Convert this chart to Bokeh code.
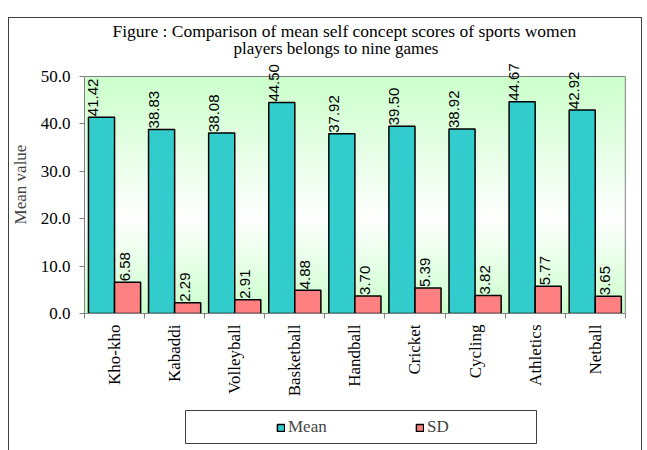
import numpy as np
from bokeh.plotting import figure
from bokeh.models import (ColumnDataSource, LabelSet, Legend, LegendItem, Title,
                          FixedTicker, Range1d, NumeralTickFormatter)
from bokeh.layouts import column
from bokeh.core.properties import value
from bokeh.embed import file_html
from bokeh.resources import INLINE

games = ["Kho-kho", "Kabaddi", "Volleyball", "Basketball", "Handball",
         "Cricket", "Cycling", "Athletics", "Netball"]
mean_vals = [41.42, 38.83, 38.08, 44.50, 37.92, 39.50, 38.92, 44.67, 42.92]
sd_vals = [6.58, 2.29, 2.91, 4.88, 3.70, 5.39, 3.82, 5.77, 3.65]
y_ticks = [0, 10, 20, 30, 40, 50]
title_lines = ["Figure : Comparison of mean self concept scores of sports women",
               "players belongs to nine games"]
series_names = ["Mean", "SD"]
series_colors = ["#33CCCC", "#FF8080"]

n = len(games)
y_max = y_ticks[-1]
centers = np.arange(n) + 0.5
bw = 0.434
src = ColumnDataSource(dict(
    x_mean=list(centers - bw / 2), x_sd=list(centers + bw / 2),
    mean=mean_vals, sd=sd_vals,
    mean_lbl=[f"{v:.2f}" for v in mean_vals],
    sd_lbl=[f"{v:.2f}" for v in sd_vals]))

SERIF = "Liberation Serif"
EDGE = "#404040"
GRID = "#808080"
W = 642
BL, BR = 84, 16   # side borders shared by both figures (frames are aligned by the column)


def line_bg(parts):
    return ", ".join(f"linear-gradient({EDGE}, {EDGE}) {pos} / {size} no-repeat" for pos, size in parts) + ", white"


# ---------------- main chart ----------------
p = figure(width=W, height=405, x_range=Range1d(0, n + 0.02), y_range=Range1d(0, 54.43),
           output_backend="svg", toolbar_location=None,
           min_border_left=BL, min_border_right=BR, min_border_top=55, min_border_bottom=92)
p.styles = {"background": line_bg([("8px 17px", "1px 100%"), ("641px 17px", "1px 100%"),
                                   ("8px 17px", "634px 1px")])}
p.background_fill_color = "white"
p.border_fill_alpha = 0
p.outline_line_color = None
p.xgrid.visible = False
p.ygrid.visible = False

# gradient background of the plot area (style only)
nrows = 240
t = np.linspace(0, 1, nrows)
g = np.array([0xCC, 0xFF, 0xCC], dtype=float)
w = np.array([255, 255, 255], dtype=float)
img = np.empty((nrows, 1), dtype=np.uint32)
view = img.view(dtype=np.uint8).reshape((nrows, 1, 4))
for i, ti in enumerate(t):
    if ti < 0.4:
        f = ti / 0.4
        c = g * (1 - f) + w * f
    else:
        f = (ti - 0.4) / 0.6
        c = w * (1 - f) + g * f
    view[i, 0, 0:3] = c.astype(np.uint8)
    view[i, 0, 3] = 255
p.image_rgba(image=[img], x=0, y=0, dw=n, dh=y_max)

# plot-area border (top and right)
p.segment(x0=[0, n], y0=[y_max, 0], x1=[n, n], y1=[y_max, y_max], line_color=GRID, line_width=1)

r_mean = p.vbar(x="x_mean", top="mean", bottom=0, width=bw, source=src,
                fill_color=series_colors[0], line_color="black", line_width=1.5)
r_sd = p.vbar(x="x_sd", top="sd", bottom=0, width=bw, source=src,
              fill_color=series_colors[1], line_color="black", line_width=1.5)

for xf, yf, tf, xo in [("x_mean", "mean", "mean_lbl", -8), ("x_sd", "sd", "sd_lbl", -3)]:
    p.add_layout(LabelSet(x=xf, y=yf, text=tf, source=src, angle=np.pi / 2,
                          text_align=value("left"), text_baseline=value("middle"),
                          x_offset=xo, y_offset=1,
                          text_font=value("Liberation Sans"), text_font_size=value("15px"),
                          text_color=value("black")))

# axes
p.yaxis.ticker = FixedTicker(ticks=y_ticks)
p.yaxis.bounds = (0, y_max)
p.yaxis.formatter = NumeralTickFormatter(format="0.0")
p.yaxis.major_tick_out = 5
p.yaxis.major_tick_in = 0
p.yaxis.minor_tick_line_color = None
p.yaxis.axis_line_color = GRID
p.yaxis.major_tick_line_color = GRID
p.yaxis.major_label_standoff = 9
p.yaxis.axis_label = "Mean value"
p.yaxis.axis_label_text_font = SERIF
p.yaxis.axis_label_text_font_size = "17px"
p.yaxis.axis_label_text_font_style = "normal"
p.yaxis.axis_label_standoff = 8

p.xaxis.ticker = FixedTicker(ticks=list(centers), minor_ticks=list(range(n + 1)))
p.xaxis.bounds = (0, n)
p.xaxis.major_label_overrides = {float(c): gname for c, gname in zip(centers, games)}
p.xaxis.major_tick_line_color = None
p.xaxis.minor_tick_line_color = GRID
p.xaxis.minor_tick_out = 5
p.xaxis.minor_tick_in = 0
p.xaxis.axis_line_color = GRID
p.xaxis.major_label_orientation = np.pi / 2
p.xaxis.major_label_standoff = 5

for ax in (p.xaxis, p.yaxis):
    ax.major_label_text_font = SERIF
    ax.major_label_text_font_size = "17px"
    ax.major_label_text_color = "black"

# title (two lines, added from the plot outward)
for line, so, fs, off in [(title_lines[1], -4, "17px", 149), (title_lines[0], -4, "17.5px", 28)]:
    p.add_layout(Title(text=line, align="left", offset=off, text_font=SERIF, text_font_size=fs,
                       text_font_style="normal", text_color="black", standoff=so,
                       text_line_height=1.0), "above")

# ---------------- legend strip ----------------
QH = 45
q = figure(width=W, height=QH, x_range=Range1d(BL, W - BR), y_range=Range1d(0, QH),
           x_axis_type=None, y_axis_type=None, output_backend="svg", toolbar_location=None,
           min_border_left=BL, min_border_right=BR, min_border_top=0, min_border_bottom=0)
q.styles = {"background": line_bg([("8px 0", "1px 100%"), ("641px 0", "1px 100%")])}
q.border_fill_alpha = 0
q.background_fill_alpha = 0
q.outline_line_color = None
q.xgrid.visible = False
q.ygrid.visible = False
# legend frame box (decoration, in strip pixels)
q.quad(left=[185], right=[536], bottom=[QH - 38], top=[QH - 5],
       fill_color="white", line_color=EDGE, line_width=1)
leg_src = ColumnDataSource(dict(x=[np.nan], top=[np.nan]))
leg_r = [q.vbar(x="x", top="top", width=0.1, source=leg_src, fill_color=c,
                line_color="black", line_width=1.5) for c in series_colors]
legend = Legend(items=[LegendItem(label=nm, renderers=[r]) for nm, r in zip(series_names, leg_r)],
                orientation="horizontal", location=(276 - BL, 13),
                padding=0, spacing=87, label_width=40, margin=0,
                glyph_width=9, glyph_height=9, label_standoff=3,
                border_line_color=None, background_fill_alpha=0,
                label_text_font=SERIF, label_text_font_size="17px")
q.add_layout(legend, "center")

open("out.html", "w").write(file_html(column(p, q, spacing=0), INLINE))
